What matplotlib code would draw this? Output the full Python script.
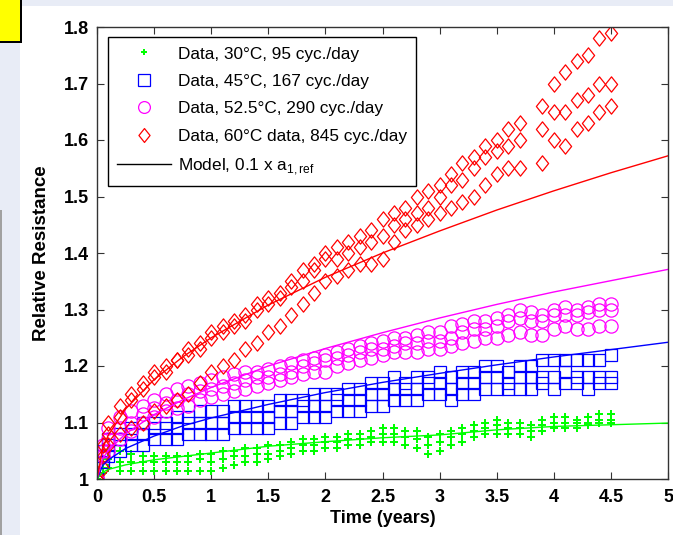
import numpy as np
import matplotlib
matplotlib.use('Agg')
import matplotlib.pyplot as plt
from matplotlib.patches import Rectangle
from matplotlib.lines import Line2D
from matplotlib.path import Path

plt.rcParams['font.family'] = ['Liberation Sans', 'DejaVu Sans']

# measurement times (years); three cells per test condition
t_data = [0.0, 0.05, 0.1, 0.2, 0.3, 0.4, 0.5, 0.6, 0.7, 0.8, 0.9,
          1.0, 1.1, 1.2, 1.3, 1.4, 1.5, 1.6, 1.7, 1.8, 1.9,
          2.0, 2.1, 2.2, 2.3, 2.4, 2.5, 2.6, 2.7, 2.8, 2.9,
          3.0, 3.1, 3.2, 3.3, 3.4, 3.5, 3.6, 3.7, 3.8, 3.9,
          4.0, 4.1, 4.2, 4.3, 4.4, 4.5]

nan = np.nan

# 30C, 95 cyc/day
r30_a = [1.00, 1.03, 1.05, 1.05, 1.045, 1.04, 1.04, 1.04, 1.04, 1.04, 1.045,
         1.045, 1.05, 1.05, 1.055, 1.055, 1.06, 1.06, 1.065, 1.07, 1.07,
         1.075, 1.075, 1.08, 1.08, 1.085, 1.09, 1.09, 1.085, 1.085, 1.075,
         1.08, 1.085, 1.09, 1.095, 1.10, 1.105, 1.10, 1.10, 1.095, 1.105,
         1.11, 1.11, 1.105, 1.11, 1.115, 1.115]
r30_b = [1.00, 1.02, 1.035, 1.03, 1.03, 1.03, 1.03, 1.03, 1.03, 1.03, 1.035,
         1.03, 1.035, 1.04, 1.04, 1.045, 1.045, 1.05, 1.055, 1.06, 1.06,
         1.065, 1.065, 1.07, 1.07, 1.075, 1.08, 1.08, 1.075, 1.07, 1.06,
         1.065, 1.075, 1.08, 1.085, 1.09, 1.095, 1.09, 1.09, 1.085, 1.095,
         1.10, 1.10, 1.10, 1.10, 1.105, 1.105]
r30_c = [1.00, 1.01, 1.02, 1.015, 1.015, 1.015, 1.015, 1.015, 1.015, 1.015, 1.015,
         1.015, 1.02, 1.025, 1.03, 1.03, 1.035, 1.04, 1.045, 1.05, 1.05,
         1.055, 1.055, 1.06, 1.06, 1.065, 1.065, 1.065, 1.06, 1.055, 1.045,
         1.05, 1.06, 1.065, 1.075, 1.08, 1.08, 1.08, 1.08, 1.075, 1.085,
         1.09, 1.09, 1.09, 1.095, 1.10, 1.10]

# 45C, 167 cyc/day
r45_a = [1.00, 1.05, 1.07, 1.08, 1.09, 1.10, 1.10, 1.10, 1.11, 1.11, 1.12,
         1.12, 1.12, 1.13, 1.13, 1.13, 1.13, 1.14, 1.14, 1.14, 1.15,
         1.15, 1.15, 1.16, 1.16, 1.17, 1.17, 1.18, 1.17, 1.18, 1.18,
         1.19, 1.18, 1.19, 1.19, 1.20, 1.20, 1.19, 1.20, 1.20, 1.21,
         1.21, 1.21, 1.21, 1.21, 1.21, 1.22]
r45_b = [1.00, 1.04, 1.06, 1.07, 1.08, 1.08, 1.09, 1.09, 1.09, 1.10, 1.10,
         1.10, 1.10, 1.11, 1.11, 1.11, 1.11, 1.12, 1.12, 1.13, 1.13,
         1.13, 1.14, 1.14, 1.14, 1.15, 1.15, 1.16, 1.16, 1.16, 1.17,
         1.17, 1.16, 1.17, 1.17, 1.18, 1.18, 1.17, 1.18, 1.18, 1.18,
         1.18, 1.19, 1.18, 1.18, 1.18, 1.18]
r45_c = [1.00, 1.03, 1.04, 1.05, 1.06, 1.06, 1.07, 1.07, 1.07, 1.08, 1.08,
         1.08, 1.08, 1.09, 1.09, 1.09, 1.09, 1.10, 1.10, 1.11, 1.11,
         1.11, 1.12, 1.12, 1.12, 1.13, 1.13, 1.14, 1.14, 1.14, 1.15,
         1.15, 1.14, 1.15, 1.15, 1.16, 1.16, 1.16, 1.16, 1.16, 1.17,
         1.16, 1.17, 1.17, 1.16, 1.17, 1.17]

# 52.5C, 290 cyc/day
r52_a = [1.00, 1.06, 1.09, 1.11, 1.12, 1.13, 1.14, 1.15, 1.16, 1.165, 1.17,
         1.175, 1.18, 1.185, 1.19, 1.19, 1.195, 1.20, 1.205, 1.21, 1.215,
         1.22, 1.225, 1.23, 1.235, 1.24, 1.245, 1.25, 1.25, 1.255, 1.26,
         1.26, 1.27, 1.275, 1.28, 1.28, 1.285, 1.29, 1.30, 1.295, 1.29,
         1.30, 1.305, 1.30, 1.305, 1.31, 1.31]
r52_b = [1.00, 1.05, 1.07, 1.09, 1.10, 1.115, 1.125, 1.135, 1.14, 1.15, 1.155,
         1.16, 1.165, 1.17, 1.175, 1.18, 1.18, 1.185, 1.19, 1.20, 1.205,
         1.21, 1.215, 1.22, 1.225, 1.23, 1.23, 1.235, 1.24, 1.24, 1.245,
         1.245, 1.25, 1.26, 1.265, 1.265, 1.27, 1.28, 1.285, 1.28, 1.28,
         1.29, 1.29, 1.29, 1.295, 1.30, 1.30]
r52_c = [1.00, 1.04, 1.05, 1.07, 1.085, 1.10, 1.11, 1.12, 1.125, 1.13, 1.14,
         1.145, 1.15, 1.155, 1.16, 1.165, 1.17, 1.175, 1.18, 1.185, 1.19,
         1.19, 1.20, 1.205, 1.21, 1.215, 1.22, 1.225, 1.225, 1.225, 1.23,
         1.23, 1.235, 1.24, 1.245, 1.25, 1.25, 1.255, 1.26, 1.255, 1.255,
         1.265, 1.27, 1.265, 1.265, 1.27, 1.27]

# 60C, 845 cyc/day (no reading at 3.8 years)
r60_a = [1.00, 1.06, 1.10, 1.13, 1.15, 1.17, 1.19, 1.20, 1.21, 1.23, 1.24,
         1.26, 1.27, 1.28, 1.29, 1.31, 1.32, 1.33, 1.35, 1.37, 1.38,
         1.40, 1.41, 1.42, 1.43, 1.44, 1.46, 1.47, 1.48, 1.50, 1.51,
         1.52, 1.54, 1.56, 1.57, 1.59, 1.60, 1.62, 1.63, nan, 1.66,
         1.70, 1.72, 1.74, 1.75, 1.78, 1.79]
r60_b = [1.00, 1.04, 1.08, 1.11, 1.14, 1.16, 1.18, 1.19, 1.21, 1.22, 1.23,
         1.25, 1.26, 1.27, 1.28, 1.30, 1.31, 1.32, 1.34, 1.35, 1.37,
         1.39, 1.39, 1.40, 1.41, 1.42, 1.43, 1.45, 1.46, 1.47, 1.48,
         1.50, 1.52, 1.53, 1.55, 1.57, 1.58, 1.59, 1.60, nan, 1.62,
         1.65, 1.65, 1.67, 1.68, 1.70, 1.70]
r60_c = [1.00, 1.02, 1.06, 1.08, 1.09, 1.10, 1.12, 1.13, 1.14, 1.15, 1.17,
         1.19, 1.20, 1.21, 1.23, 1.24, 1.26, 1.27, 1.29, 1.31, 1.33,
         1.35, 1.36, 1.37, 1.38, 1.38, 1.39, 1.42, 1.44, 1.45, 1.46,
         1.47, 1.48, 1.49, 1.50, 1.52, 1.54, 1.55, 1.55, nan, 1.56,
         1.60, 1.59, 1.62, 1.63, 1.65, 1.66]

# model curves, 0.1 x a1,ref
t_model = [0.0, 0.05, 0.1, 0.25, 0.5, 0.75, 1.0, 1.5, 2.0, 2.5, 3.0, 3.5, 4.0, 4.5, 5.0]
m30 = [1.000, 1.012, 1.017, 1.025, 1.034, 1.040, 1.046, 1.058, 1.066, 1.073,
       1.078, 1.087, 1.093, 1.096, 1.099]
m45 = [1.000, 1.024, 1.034, 1.054, 1.076, 1.094, 1.108, 1.132, 1.153, 1.171,
       1.187, 1.202, 1.216, 1.229, 1.242]
m52 = [1.000, 1.036, 1.051, 1.080, 1.114, 1.140, 1.162, 1.200, 1.231, 1.259,
       1.285, 1.309, 1.331, 1.351, 1.371]
m60 = [1.000, 1.055, 1.078, 1.124, 1.176, 1.216, 1.250, 1.308, 1.357, 1.400,
       1.439, 1.476, 1.510, 1.542, 1.572]

labels = ['Data, 30\u00b0C, 95 cyc./day',
          'Data, 45\u00b0C, 167 cyc./day',
          'Data, 52.5\u00b0C, 290 cyc./day',
          'Data, 60\u00b0C data, 845 cyc./day',
          'Model, 0.1 x a$_\\mathregular{1,ref}$']

green = (0, 1, 0)
blue = (0, 0, 1)
magenta = (1, 0, 1)
red = (1, 0, 0)

# taller-than-wide diamond outline
diamond = Path([(0, 1), (0.8, 0), (0, -1), (-0.8, 0), (0, 1)],
               [Path.MOVETO, Path.LINETO, Path.LINETO, Path.LINETO, Path.CLOSEPOLY])

# style of each data series: marker, size
sty_30 = dict(marker='P', markersize=6, markerfacecolor=green, markeredgewidth=0)
sty_45 = dict(marker='s', markersize=9, markerfacecolor='none',
              markeredgecolor=blue, markeredgewidth=0.9)
sty_52 = dict(marker='o', markersize=9.5, markerfacecolor='none',
              markeredgecolor=magenta, markeredgewidth=0.9)
sty_60 = dict(marker=diamond, markersize=11, markerfacecolor='none',
              markeredgecolor=red, markeredgewidth=0.9)

fig = plt.figure(figsize=(6.73, 5.35), dpi=100)
fig.patch.set_facecolor('white')

# window chrome around the plot area
W, H = 673.0, 535.0
lav = (0.91, 0.925, 0.965)
fig.patches.append(Rectangle((0, 1 - 6 / H), 1, 6 / H, transform=fig.transFigure,
                             facecolor=lav, edgecolor='none', zorder=0))
fig.patches.append(Rectangle((0, 0), 20 / W, 1, transform=fig.transFigure,
                             facecolor=lav, edgecolor='none', zorder=0))
fig.patches.append(Rectangle((0, 0), 2 / W, 1 - 210 / H, transform=fig.transFigure,
                             facecolor=(0.63, 0.63, 0.63), edgecolor='none', zorder=1))
fig.patches.append(Rectangle((0, 1 - 43 / H), 22 / W, 43 / H, transform=fig.transFigure,
                             facecolor='black', edgecolor='none', zorder=1))
fig.patches.append(Rectangle((0, 1 - 41 / H), 20 / W, 41 / H, transform=fig.transFigure,
                             facecolor=(1, 1, 0), edgecolor='none', zorder=2))

ax = fig.add_axes([97 / W, 1 - 479 / H, 571 / W, 452 / H])

for vals in (r30_a, r30_b, r30_c):
    ax.plot(t_data, vals, linestyle='none', **sty_30)
for vals in (r45_a, r45_b, r45_c):
    ax.plot(t_data, vals, linestyle='none', **sty_45)
for vals in (r52_a, r52_b, r52_c):
    ax.plot(t_data, vals, linestyle='none', **sty_52)
for vals in (r60_a, r60_b, r60_c):
    ax.plot(t_data, vals, linestyle='none', **sty_60)

for vals, c in ((m30, green), (m45, blue), (m52, magenta), (m60, red)):
    ax.plot(t_model, vals, color=c, linewidth=1)

ax.set_xlim(0, 5)
ax.set_ylim(1, 1.8)
ax.set_xticks(np.arange(0, 5.01, 0.5))
ax.set_yticks(np.arange(1, 1.801, 0.1))
ax.xaxis.set_major_formatter(matplotlib.ticker.FormatStrFormatter('%g'))
ax.yaxis.set_major_formatter(matplotlib.ticker.FormatStrFormatter('%g'))
ax.tick_params(direction='in', length=5, width=0.8, top=True, right=True,
               labelsize=13, color='#333333')
ax.tick_params(axis='x', pad=7)
ax.tick_params(axis='y', pad=6)
for lab in ax.get_xticklabels() + ax.get_yticklabels():
    lab.set_fontweight('bold')
for sp in ax.spines.values():
    sp.set_linewidth(1)
    sp.set_color('#333333')

ax.set_xlabel('Time (years)', fontsize=13, fontweight='bold', labelpad=3)
ax.set_ylabel('Relative Resistance', fontsize=13.5, fontweight='bold', labelpad=10)

handles = [
    Line2D([], [], linestyle='none', marker='P', markersize=4.5,
           markerfacecolor=green, markeredgewidth=0),
    Line2D([], [], linestyle='none', **dict(sty_45, markersize=8)),
    Line2D([], [], linestyle='none', **dict(sty_52, markersize=8.5)),
    Line2D([], [], linestyle='none', **dict(sty_60, markersize=10)),
    Line2D([], [], color='black', linewidth=1),
]
leg = ax.legend(handles, labels, loc='upper left',
                bbox_to_anchor=(11 / 571, 1 - 10 / 452), borderaxespad=0,
                fontsize=12.4, frameon=True, fancybox=False, framealpha=1,
                edgecolor='black', handlelength=3.1, handletextpad=0.4,
                labelspacing=0.72, borderpad=0.55)
leg.get_frame().set_linewidth(1)

fig.savefig('out.png', dpi=100)
